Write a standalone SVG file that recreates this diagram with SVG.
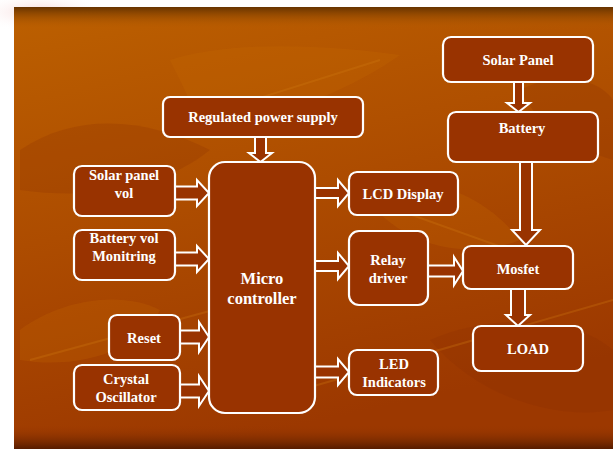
<svg xmlns="http://www.w3.org/2000/svg" width="613" height="449" viewBox="0 0 613 449">
<defs>
<linearGradient id="bg" x1="0" y1="0" x2="0.3" y2="1">
<stop offset="0" stop-color="#bc6000"/>
<stop offset="0.5" stop-color="#ad4c00"/>
<stop offset="1" stop-color="#9c3800"/>
</linearGradient>
<linearGradient id="topband" x1="0" y1="0" x2="0" y2="1">
<stop offset="0" stop-color="#663300"/>
<stop offset="1" stop-color="#bb5e00" stop-opacity="0"/>
</linearGradient>
<linearGradient id="botband" x1="0" y1="0" x2="0" y2="1">
<stop offset="0" stop-color="#9c3800" stop-opacity="0"/>
<stop offset="1" stop-color="#561c00"/>
</linearGradient>
<radialGradient id="pink" cx="0.5" cy="0.5" r="0.5">
<stop offset="0" stop-color="#f4c8c8" stop-opacity="0.7"/>
<stop offset="1" stop-color="#ffffff" stop-opacity="0"/>
</radialGradient>
<style>
.box{fill:#993300;stroke:#ffffff;stroke-width:2.2}
.arr{fill:#993300;stroke:#ffffff;stroke-width:2;stroke-linejoin:miter}
.t{font-family:"Liberation Serif","Times New Roman",serif;font-weight:bold;font-size:14.5px;fill:#ffffff;text-anchor:middle}
.big{font-size:16.5px}
.leaf{fill:#c86c00;opacity:0.22}
.leafd{fill:#8a2c00;opacity:0.22}
.vein{fill:none;stroke:#d07a10;stroke-width:2;opacity:0.3}
</style>
</defs>
<rect width="613" height="449" fill="#ffffff"/>
<ellipse cx="40" cy="12" rx="70" ry="20" fill="url(#pink)"/>
<rect x="14" y="7" width="599" height="442" fill="url(#bg)"/>
<path class="leaf" d="M170 60 C230 40 330 45 400 55 C350 90 280 120 200 125 C190 100 180 80 170 60 Z"/>
<path class="leafd" d="M20 150 C80 110 150 120 210 150 C160 190 90 200 20 190 Z"/>
<path class="leaf" d="M360 190 C420 170 480 190 520 240 C470 260 400 250 360 190 Z"/>
<path class="leafd" d="M430 340 C500 310 580 320 613 350 L613 410 C560 420 480 400 430 340 Z"/>
<path class="leaf" d="M20 330 C60 300 120 290 160 310 C140 350 80 370 20 360 Z"/>
<path class="leafd" d="M520 90 C560 70 600 80 613 100 L613 160 C580 150 540 130 520 90 Z"/>
<path class="vein" d="M190 120 L380 60"/>
<path class="vein" d="M30 360 L250 300"/>
<path class="vein" d="M300 390 L613 300"/>
<path class="vein" d="M370 200 L510 250"/>
<rect x="14" y="7" width="599" height="22" fill="url(#topband)"/>
<rect x="14" y="425" width="599" height="24" fill="url(#botband)"/>

<g id="connectors">
<polygon class="arr" points="175,186.5 197,186.5 197,180 209,193 197,206 197,199.5 175,199.5"/>
<polygon class="arr" points="175,252.5 197,252.5 197,246 209,259 197,272 197,265.5 175,265.5"/>
<polygon class="arr" points="180,330.5 199,330.5 199,322 209,337 199,352 199,343.5 180,343.5"/>
<polygon class="arr" points="180,384.5 199,384.5 199,376 209,391 199,406 199,397.5 180,397.5"/>
<polygon class="arr" points="315,188 338,188 338,180 349,193 338,206 338,198 315,198"/>
<polygon class="arr" points="315,261 338,261 338,253 349,266 338,279 338,271 315,271"/>
<polygon class="arr" points="315,366.5 338,366.5 338,359 349,372 338,385 338,377.5 315,377.5"/>
<polygon class="arr" points="428,265.5 454,265.5 454,257 463,271 454,285 454,276.5 428,276.5"/>
<polygon class="arr" points="255,137 266,137 266,153 272,153 260.5,162 249,153 255,153"/>
<polygon class="arr" points="514,82 523,82 523,103 530,103 518.5,112 507,103 514,103"/>
<polygon class="arr" points="520,162 532,162 532,230 540,230 526,245 512,230 520,230"/>
<polygon class="arr" points="511,289 525,289 525,315 530,315 518,326 506,315 511,315"/>
</g>

<g id="solar-panel"><rect class="box" x="443" y="37" width="150" height="45" rx="8"/><text class="t" x="518" y="65">Solar Panel</text></g>
<g id="battery"><rect class="box" x="448" y="112" width="150" height="50" rx="8"/><text class="t" x="522" y="133">Battery</text></g>
<g id="regulated-power-supply"><rect class="box" x="163" y="97" width="200" height="40" rx="7"/><text class="t" x="263" y="122">Regulated power supply</text></g>
<g id="solar-panel-vol"><rect class="box" x="74" y="166" width="101" height="50" rx="8"/><text class="t" x="124" y="180">Solar panel</text><text class="t" x="124" y="198">vol</text></g>
<g id="battery-vol"><rect class="box" x="74" y="230" width="101" height="50" rx="8"/><text class="t" x="124" y="243">Battery vol</text><text class="t" x="124" y="261">Monitring</text></g>
<g id="reset"><rect class="box" x="109" y="315" width="71" height="45" rx="8"/><text class="t" x="144" y="343">Reset</text></g>
<g id="crystal-oscillator"><rect class="box" x="74" y="365" width="106" height="45" rx="8"/><text class="t" x="126" y="384">Crystal</text><text class="t" x="126" y="402">Oscillator</text></g>
<g id="micro-controller"><rect class="box" x="209" y="162" width="106" height="251" rx="16"/><text class="t big" x="262" y="284">Micro</text><text class="t big" x="262" y="304">controller</text></g>
<g id="lcd-display"><rect class="box" x="349" y="172" width="109" height="43" rx="8"/><text class="t" x="403" y="199">LCD Display</text></g>
<g id="relay-driver"><rect class="box" x="349" y="231" width="79" height="74" rx="10"/><text class="t" x="388" y="265">Relay</text><text class="t" x="388" y="283">driver</text></g>
<g id="mosfet"><rect class="box" x="463" y="246" width="110" height="43" rx="8"/><text class="t" x="518" y="274">Mosfet</text></g>
<g id="load"><rect class="box" x="473" y="326" width="110" height="45" rx="8"/><text class="t" x="528" y="354">LOAD</text></g>
<g id="led-indicators"><rect class="box" x="349" y="350" width="89" height="45" rx="8"/><text class="t" x="394" y="369">LED</text><text class="t" x="394" y="387">Indicators</text></g>
</svg>
